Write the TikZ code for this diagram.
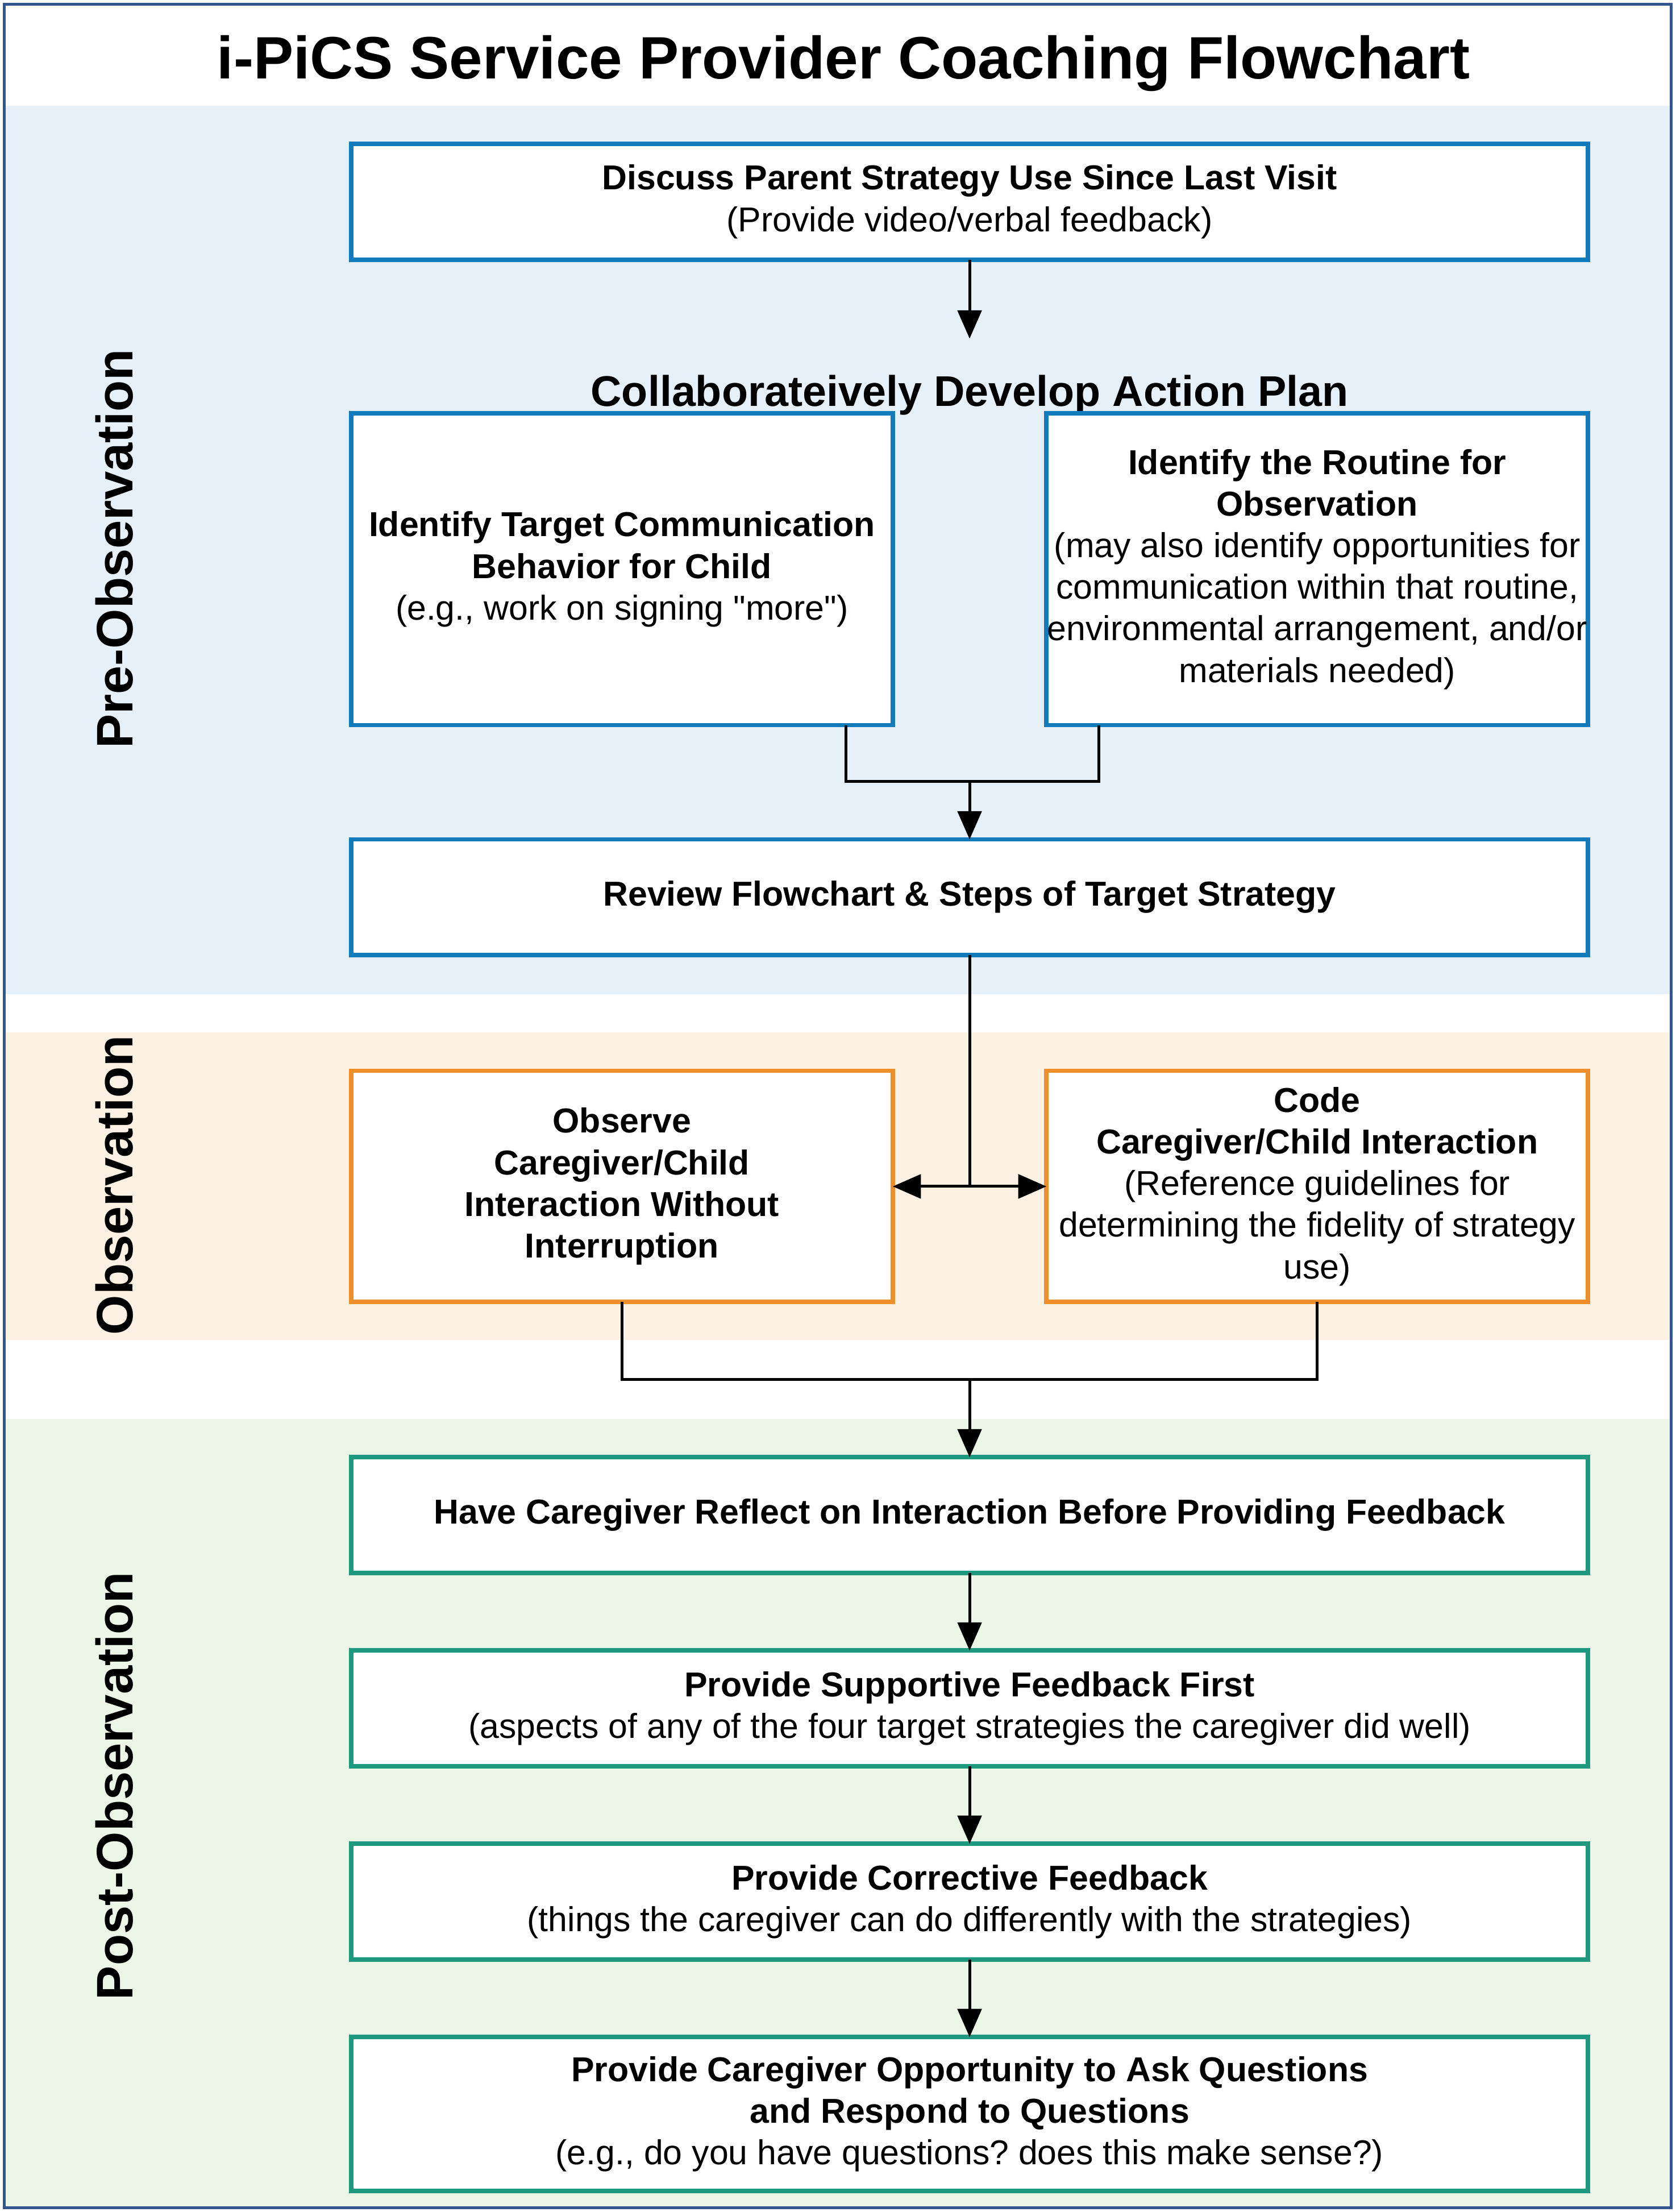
\documentclass[tikz,border=0pt]{standalone}
\usepackage{fontspec}
\setmainfont{Liberation Sans}
\frenchspacing
\usetikzlibrary{arrows.meta,positioning}
\definecolor{frameline}{RGB}{52,86,143}
\definecolor{preband}{RGB}{230,240,249}
\definecolor{preline}{RGB}{17,123,187}
\definecolor{obsband}{RGB}{253,241,228}
\definecolor{obsline}{RGB}{238,143,42}
\definecolor{postband}{RGB}{235,246,230}
\definecolor{postline}{RGB}{30,152,127}

\begin{document}
\begin{tikzpicture}[-,>={Triangle[length=10pt,width=8.5pt]},line width=1pt,
  node distance=27.5pt,
  every node/.style={outer sep=0pt,inner xsep=0pt,align=center,font=\fontsize{12.25}{14.75}\selectfont},
  pre node/.style={rectangle,fill=white,draw=preline,line width=1.6pt,minimum width=438.5pt,minimum height=41pt},
  obs node/.style={rectangle,fill=white,draw=obsline,line width=1.6pt,minimum width=192pt,minimum height=82pt},
  post node/.style={rectangle,fill=white,draw=postline,line width=1.6pt,minimum width=438.5pt,minimum height=41pt},
  half node/.style={minimum width=192pt},
  band label/.style={rotate=90,font=\fontsize{18.2}{20}\selectfont\bfseries}]
  \useasboundingbox (0,0) rectangle (594pt,-784pt);
  % background bands
  \fill[preband]  (1.5pt,-37.5pt) rectangle (592.5pt,-352.5pt);
  \fill[obsband]  (1.5pt,-366pt)  rectangle (592.5pt,-475pt);
  \fill[postband] (1.5pt,-503pt)  rectangle (592.5pt,-782.5pt);
  \draw[frameline] (1.5pt,-1.5pt) rectangle (592.5pt,-782.5pt);

  \node[anchor=base,font=\fontsize{21.2}{24}\selectfont\bfseries] (title) at (299pt,-28pt)
    {i-PiCS Service Provider Coaching Flowchart};
  \node[band label] (pre)  at (40.5pt,-194.5pt) {Pre-Observation};
  \node[band label] (obs)  at (40.5pt,-420pt)   {Observation};
  \node[band label] (post) at (40.5pt,-633pt)   {Post-Observation};

  \node[pre node] (b1) at (343.75pt,-71.5pt)
    {\textbf{Discuss Parent Strategy Use Since Last Visit}\\(Provide video/verbal feedback)};
  \node[below=28pt of b1,inner ysep=13pt,font=\fontsize{15.2}{17}\selectfont\bfseries] (plan)
    {Collaborateively Develop Action Plan};
  \node[pre node,half node,minimum height=110.5pt,below=54.5pt of b1.south west,anchor=north west] (b2)
    {\textbf{Identify Target Communication}\\\textbf{Behavior for Child}\\(e.g., work on signing \textquotedbl more\textquotedbl)};
  \node[pre node,half node,minimum height=110.5pt,right=54.5pt of b2] (b3)
    {\textbf{Identify the Routine for}\\\textbf{Observation}\\(may also identify opportunities for\\communication within that routine,\\environmental arrangement, and/or\\materials needed)};
  \node[pre node,below=40.5pt of b2.south west,anchor=north west] (b4)
    {\textbf{Review Flowchart \& Steps of Target Strategy}};
  \node[obs node,below=41pt of b4.south west,anchor=north west] (b5)
    {\textbf{Observe}\\\textbf{Caregiver/Child}\\\textbf{Interaction Without}\\\textbf{Interruption}};
  \node[obs node,right=54.5pt of b5] (b6)
    {\textbf{Code}\\\textbf{Caregiver/Child Interaction}\\(Reference guidelines for\\determining the fidelity of strategy\\use)};
  \node[post node,below=55pt of b5.south west,anchor=north west] (b7)
    {\textbf{Have Caregiver Reflect on Interaction Before Providing Feedback}};
  \node[post node,below=of b7] (b8)
    {\textbf{Provide Supportive Feedback First}\\(aspects of any of the four target strategies the caregiver did well)};
  \node[post node,below=of b8] (b9)
    {\textbf{Provide Corrective Feedback}\\(things the caregiver can do differently with the strategies)};
  \node[post node,minimum height=54.5pt,below=of b9] (b10)
    {\textbf{Provide Caregiver Opportunity to Ask Questions}\\\textbf{and Respond to Questions}\\(e.g., do you have questions? does this make sense?)};

  % joins
  \draw ([xshift=-16.5pt]b2.south east) -- ++(0,-20pt) coordinate (j1) -| ([xshift=18.5pt]b3.south west);
  \draw[->] (j1 -| b4.north) -- (b4.north);
  \coordinate (m) at (b4.south |- b5.east);
  \draw (b4.south) -- (m);
  \draw (b5.south) -- ++(0,-27.5pt) coordinate (j2) -| (b6.south);
  \draw[->] (j2 -| b7.north) -- (b7.north);

  \path[->]
    (b1) edge (plan)
    (m) edge (b5.east)
    (m) edge (b6.west)
    (b7) edge (b8)
    (b8) edge (b9)
    (b9) edge (b10);
\end{tikzpicture}
\end{document}
